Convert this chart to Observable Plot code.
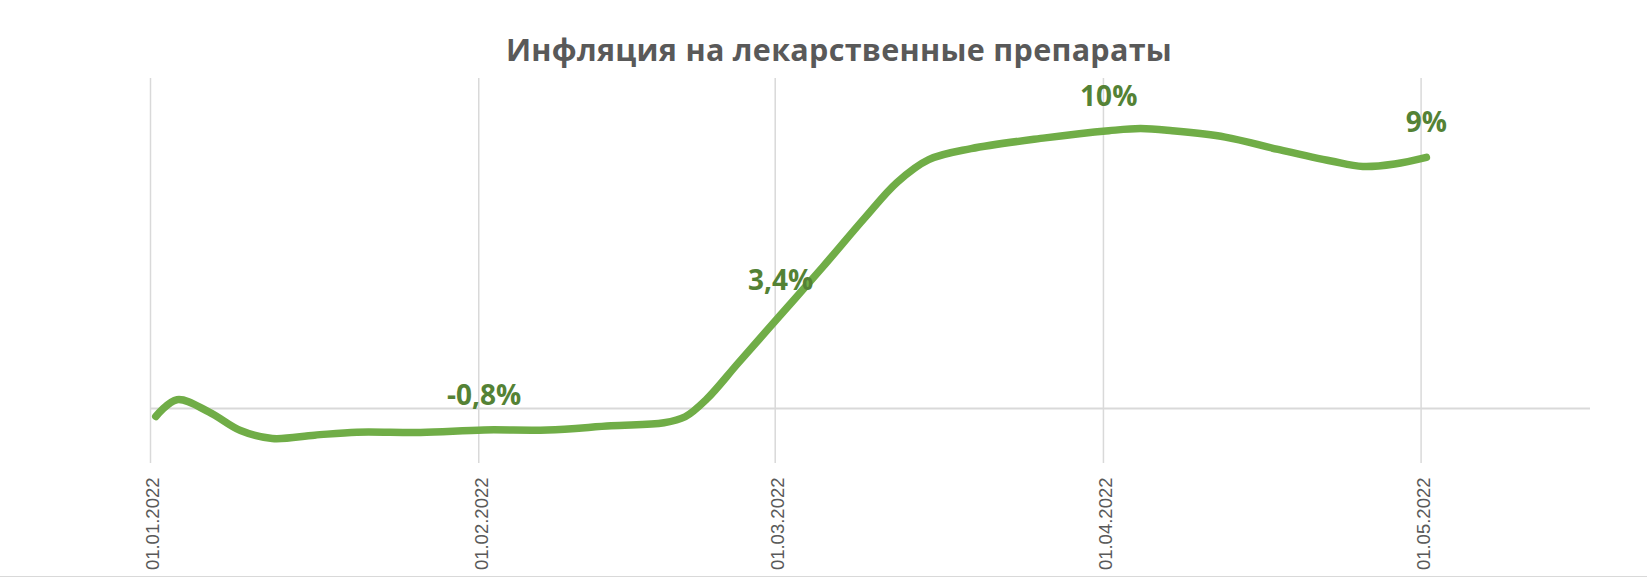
<!DOCTYPE html>
<html>
<head>
<meta charset="utf-8">
<script src="https://cdn.jsdelivr.net/npm/d3@7"></script>
<script src="https://cdn.jsdelivr.net/npm/@observablehq/plot@0.6"></script>
<style>
  html, body { margin: 0; padding: 0; background: #fff; }
  #wrap { position: relative; width: 1647px; border-bottom: 1.5px solid #d9d9d9; }
  #title { position: relative; height: 70px; width: 1647px; }
  #title span {
    position: absolute; top: 34px; left: 0; width: 1647px; padding-left: 31px; box-sizing: border-box;
    text-align: center; font-family: "Open Sans", sans-serif; font-weight: 700; font-size: 30.5px;
    letter-spacing: 0.3px; line-height: 30.5px; color: #595959; white-space: nowrap;
  }
  #chart svg { display: block; }
</style>
</head>
<body>
<div id="wrap">
  <div id="title"><span>Инфляция на лекарственные препараты</span></div>
  <div id="chart"></div>
</div>
<script>
// Series: dates and cumulative inflation (%)
const dates = [
  "2022-01-01","2022-01-03","2022-01-06","2022-01-09","2022-01-12","2022-01-16",
  "2022-01-20","2022-01-26","2022-02-01","2022-02-07","2022-02-13","2022-02-18","2022-02-20",
  "2022-02-22","2022-02-25","2022-03-01","2022-03-05","2022-03-09","2022-03-12",
  "2022-03-15","2022-03-19","2022-03-26","2022-04-01","2022-04-04",
  "2022-04-07","2022-04-12","2022-04-17","2022-04-22","2022-04-25","2022-04-28","2022-05-01"
];
const values = [
  -0.29, 0.32, -0.12, -0.80, -1.09, -0.97,
  -0.86, -0.87, -0.78, -0.78, -0.63, -0.52, -0.30,
  0.33, 1.65, 3.40, 5.15, 6.95, 8.22,
  9.05, 9.45, 9.84, 10.10, 10.18,
  10.10, 9.87, 9.42, 9.00, 8.80, 8.89, 9.13
];
// Data labels
const labelDates = ["2022-02-01", "2022-03-01", "2022-04-01", "2022-05-01"];
const labelTexts = ["-0,8%", "3,4%", "10%", "9%"];
// Axis ticks
const tickDates = ["2022-01-01", "2022-02-01", "2022-03-01", "2022-04-01", "2022-05-01"];
const xDomain = ["2022-01-01", "2022-05-17"];
const yDomain = [-2, 12];

const series = dates.map((d, i) => ({date: new Date(d), value: values[i]}));
const byDate = new Map(series.map(d => [+d.date, d.value]));
const labels = labelDates.map((d, i) => ({date: new Date(d), text: labelTexts[i], value: byDate.get(+new Date(d))}));
const ticks = tickDates.map(d => new Date(d));
const mid = d => d3.utcHour.offset(d, 12);

const chart = Plot.plot({
  width: 1647,
  height: 506,
  marginLeft: 150,
  marginRight: 57,
  marginTop: 8,
  marginBottom: 113,
  style: {background: "#fff", overflow: "visible"},
  x: {type: "utc", domain: xDomain.map(d => new Date(d))},
  y: {domain: yDomain, axis: null},
  marks: [
    Plot.ruleX(ticks, {stroke: "#d9d9d9", strokeWidth: 1.5}),
    Plot.ruleY([0], {stroke: "#d9d9d9", strokeWidth: 2}),
    Plot.axisX(ticks, {
      tickFormat: d3.utcFormat("%d.%m.%Y"),
      tickRotate: -90,
      tickSize: 0,
      tickPadding: 14,
      dx: 3,
      fontSize: 18.5,
      fontFamily: "Liberation Sans, Arial, sans-serif",
      fill: "#595959",
      label: null
    }),
    Plot.line(series, {
      x: d => mid(d.date), y: "value",
      curve: "catmull-rom",
      stroke: "#70AD47", strokeWidth: 7.5,
      strokeLinecap: "round", strokeLinejoin: "round"
    }),
    Plot.text(labels, {
      x: d => mid(d.date), y: "value", text: "text",
      lineAnchor: "bottom", dy: -25,
      fontSize: 28, fontWeight: 700,
      fontFamily: "Open Sans, sans-serif",
      fill: "#548235"
    })
  ]
});
document.getElementById("chart").appendChild(chart);
</script>
</body>
</html>
